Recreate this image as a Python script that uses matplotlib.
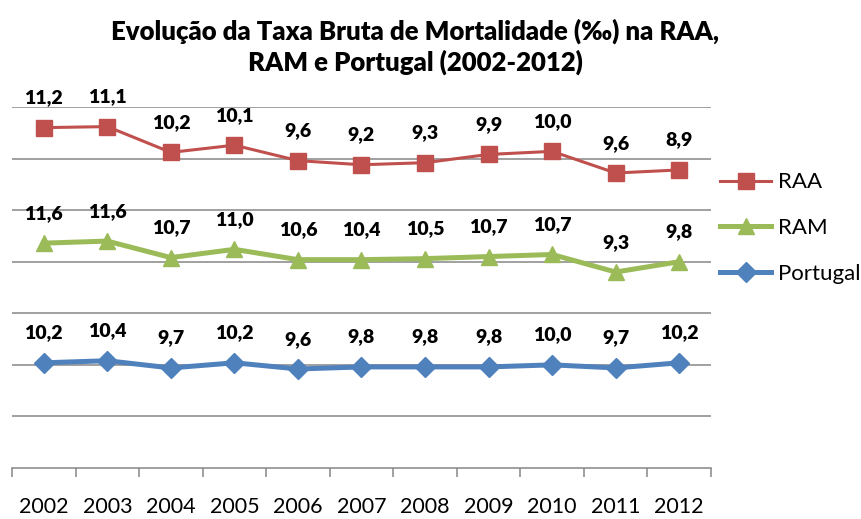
import numpy as np
import matplotlib.pyplot as plt
from matplotlib.ticker import FixedLocator

plt.rcParams['font.family'] = ['Lato', 'DejaVu Sans']

anos = ['2002', '2003', '2004', '2005', '2006', '2007', '2008', '2009', '2010', '2011', '2012']
portugal = [10.2, 10.4, 9.7, 10.2, 9.6, 9.8, 9.8, 9.8, 10.0, 9.7, 10.2]
ram = [11.6, 11.6, 10.7, 11.0, 10.6, 10.4, 10.5, 10.7, 10.7, 9.3, 9.8]
raa = [11.2, 11.1, 10.2, 10.1, 9.6, 9.2, 9.3, 9.9, 10.0, 9.6, 8.9]

# grafico de linhas empilhadas (como no excel)
base_ram = np.array(portugal)
base_raa = base_ram + np.array(ram)

fig = plt.figure(figsize=(8.62, 5.19), dpi=100)
ax = fig.add_axes([12/862, 1-468/519, (711-12)/862, (468-107)/519])

x = np.arange(len(anos))
l_raa, = ax.plot(x, base_raa + np.array(raa), color='#C0504D', lw=2.2, marker='s', ms=11)
l_ram, = ax.plot(x, base_ram + np.array(ram), color='#9BBB59', lw=3.6, marker='^', ms=12)
l_pt, = ax.plot(x, np.array(portugal), color='#4F81BD', lw=3.6, marker='D', ms=10)

for serie, topo in [(raa, base_raa + np.array(raa)), (ram, base_ram + np.array(ram)), (portugal, np.array(portugal))]:
    for i in range(len(anos)):
        ax.annotate(f'{serie[i]:.1f}'.replace('.', ','), (x[i], topo[i]), xytext=(0, 21.5),
                    textcoords='offset points', ha='center', va='center',
                    fontsize=14, fontweight='heavy')

ax.set_xlim(-0.5, len(anos) - 0.5)
ax.set_ylim(0, 35)
ax.set_yticks(np.arange(5, 36, 5))
ax.yaxis.grid(True, color='#868686', lw=1.1)
ax.set_axisbelow(True)
ax.tick_params(axis='y', left=False, labelleft=False)
ax.set_xticks(x)
ax.set_xticklabels(anos, fontsize=15.5)
ax.tick_params(axis='x', which='major', length=0, pad=21)
ax.xaxis.set_minor_locator(FixedLocator(np.arange(-0.5, len(anos), 1)))
ax.tick_params(axis='x', which='minor', length=6.5, width=1.1, color='#868686')
for s in ['left', 'right', 'top']:
    ax.spines[s].set_visible(False)
ax.spines['bottom'].set_color('#868686')
ax.spines['bottom'].set_linewidth(1.1)

fig.text(415/862, 1-31/519, 'Evolução da Taxa Bruta de Mortalidade (‰) na RAA,',
         ha='center', va='center', fontsize=18.5, fontweight='heavy')
fig.text(415/862, 1-62/519, 'RAM e Portugal (2002-2012)',
         ha='center', va='center', fontsize=18.5, fontweight='heavy')

fig.legend([l_raa, l_ram, l_pt], ['RAA', 'RAM', 'Portugal'], loc='center left',
           bbox_to_anchor=(720/862, 1-228/519), frameon=False, fontsize=16,
           handlelength=2.3, handletextpad=0.3, labelspacing=1.15, borderpad=0, borderaxespad=0)

plt.savefig('out.png', dpi=100)
